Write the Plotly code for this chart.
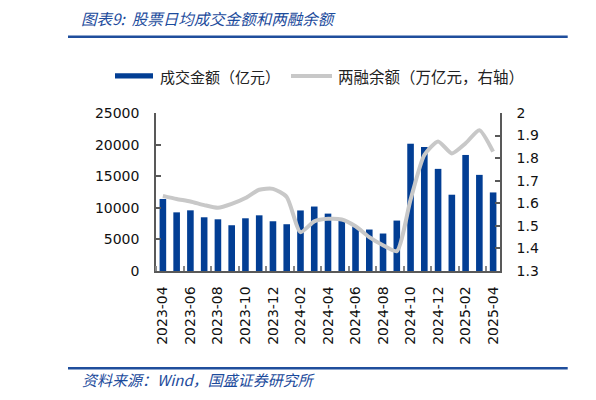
import plotly.graph_objects as go

# 月份（2023-04 ~ 2025-04）
months = ["2023-04", "2023-05", "2023-06", "2023-07", "2023-08", "2023-09",
          "2023-10", "2023-11", "2023-12", "2024-01", "2024-02", "2024-03",
          "2024-04", "2024-05", "2024-06", "2024-07", "2024-08", "2024-09",
          "2024-10", "2024-11", "2024-12", "2025-01", "2025-02", "2025-03",
          "2025-04"]

# 日均成交金额（亿元）
turnover = [11400, 9280, 9600, 8500, 8180, 7240, 8340, 8810, 7870, 7400,
            9580, 10200, 9080, 8030, 7080, 6560, 5930, 7980, 20140, 19620,
            16160, 12070, 18360, 15210, 12430]

# 两融余额（万亿元，右轴）
margin_bal = [1.633, 1.619, 1.608, 1.592, 1.580, 1.597, 1.623, 1.660, 1.664,
              1.628, 1.472, 1.520, 1.531, 1.528, 1.498, 1.450, 1.414, 1.388,
              1.616, 1.814, 1.874, 1.821, 1.866, 1.924, 1.829]

left_ticks = [0, 5000, 10000, 15000, 20000, 25000]
left_labels = ["0", "5000", "10000", "15000", "20000", "25000"]
right_ticks = [1.3, 1.4, 1.5, 1.6, 1.7, 1.8, 1.9, 2.0]
right_labels = ["1.3", "1.4", "1.5", "1.6", "1.7", "1.8", "1.9", "2"]

BLUE = "#023e94"
GRAY = "#c8c8c8"
TXT_BLUE = "#1c4b9c"
AXIS = "#595959"
NUM_FONT = "DejaVu Sans"
CJK_FONT = "Noto Sans CJK SC"

# the page body has an 8px margin, so work in page pixels and shift
OFF = 8
W, H = 596 - OFF, 400 - OFF
# plot area in page pixels
L, R, T, B = 156, 500, 113, 271


def px_x(p):
    return (p - L) / (R - L)


def px_y(p):
    return (B - p) / (B - T)


x_idx = list(range(len(months)))

fig = go.Figure()
fig.add_trace(go.Bar(
    x=x_idx, y=turnover, marker_color=BLUE, marker_line_width=0,
    name="成交金额（亿元）", showlegend=False,
))
fig.add_trace(go.Scatter(
    x=x_idx, y=margin_bal, yaxis="y2", mode="lines",
    line=dict(color=GRAY, width=4, shape="spline", smoothing=0.6),
    name="两融余额（万亿元，右轴）", showlegend=False,
))

fig.update_layout(
    width=W, height=H,
    margin=dict(l=L - OFF, r=W - (R - OFF), t=T - OFF, b=H - (B - OFF),
                autoexpand=False),
    paper_bgcolor="white", plot_bgcolor="white",
    bargap=0.52,
    font=dict(family=NUM_FONT, size=14, color="#111111"),
    xaxis=dict(
        range=[-0.5, len(months) - 0.5],
        tickmode="array", tickvals=x_idx[::2], ticktext=months[::2],
        tickangle=-90, ticks="", showgrid=False, zeroline=False,
        showline=True, linecolor=AXIS, linewidth=1.5,
        ticklabelstandoff=8,
        tickfont=dict(family=NUM_FONT, size=14),
        minor=dict(tickmode="linear", tick0=1.5, dtick=2, ticks="inside",
                   ticklen=5, tickwidth=1.5, tickcolor="#888888"),
    ),
    yaxis=dict(
        range=[0, 25000], tickmode="array", tickvals=left_ticks,
        ticktext=left_labels,
        ticks="inside", ticklen=5, tickwidth=1.5, tickcolor=AXIS,
        showline=True, linecolor=AXIS, linewidth=1.5,
        showgrid=False, zeroline=False, ticklabelstandoff=12,
        tickfont=dict(family=NUM_FONT, size=14),
    ),
    yaxis2=dict(
        overlaying="y", side="right", range=[1.2999, 2.0001],
        tickmode="array", tickvals=right_ticks, ticktext=right_labels,
        ticks="inside", ticklen=5, tickwidth=1.5, tickcolor=AXIS,
        showline=True, linecolor=AXIS, linewidth=1.5,
        showgrid=False, zeroline=False, ticklabelstandoff=12,
        tickfont=dict(family=NUM_FONT, size=14),
    ),
)

shapes = []
# header / footer rules
for yy in (36.7, 368.3):
    shapes.append(dict(type="line", xref="paper", yref="paper",
                       x0=px_x(68), x1=px_x(567.7), y0=px_y(yy), y1=px_y(yy),
                       line=dict(color="#1f4e9c", width=2.5)))
    shapes.append(dict(type="line", xref="paper", yref="paper",
                       x0=px_x(590), x1=px_x(596), y0=px_y(yy), y1=px_y(yy),
                       line=dict(color="#1f4e9c", width=2.5)))
# legend swatches
shapes.append(dict(type="rect", xref="paper", yref="paper",
                   x0=px_x(115), x1=px_x(153), y0=px_y(78.5), y1=px_y(73.3),
                   fillcolor=BLUE, line=dict(width=0)))
shapes.append(dict(type="line", xref="paper", yref="paper",
                   x0=px_x(291), x1=px_x(332), y0=px_y(76), y1=px_y(76),
                   line=dict(color=GRAY, width=4)))
fig.update_layout(shapes=shapes)

annotations = [
    dict(text="<i>图表9:  股票日均成交金额和两融余额</i>", x=px_x(79), y=px_y(18),
         font=dict(family=CJK_FONT, size=15.5, color=TXT_BLUE)),
    dict(text="<i>资料来源：Wind，国盛证券研究所</i>", x=px_x(80), y=px_y(379),
         font=dict(family=CJK_FONT, size=15, color=TXT_BLUE)),
    dict(text="成交金额（亿元）", x=px_x(158), y=px_y(76),
         font=dict(family=CJK_FONT, size=15, color="#222222")),
    dict(text="两融余额（万亿元，右轴）", x=px_x(336), y=px_y(76),
         font=dict(family=CJK_FONT, size=15.5, color="#222222")),
]
for a in annotations:
    a.update(xref="paper", yref="paper", xanchor="left", yanchor="middle",
             showarrow=False)
fig.update_layout(annotations=annotations)

fig.write_html("out.html")
